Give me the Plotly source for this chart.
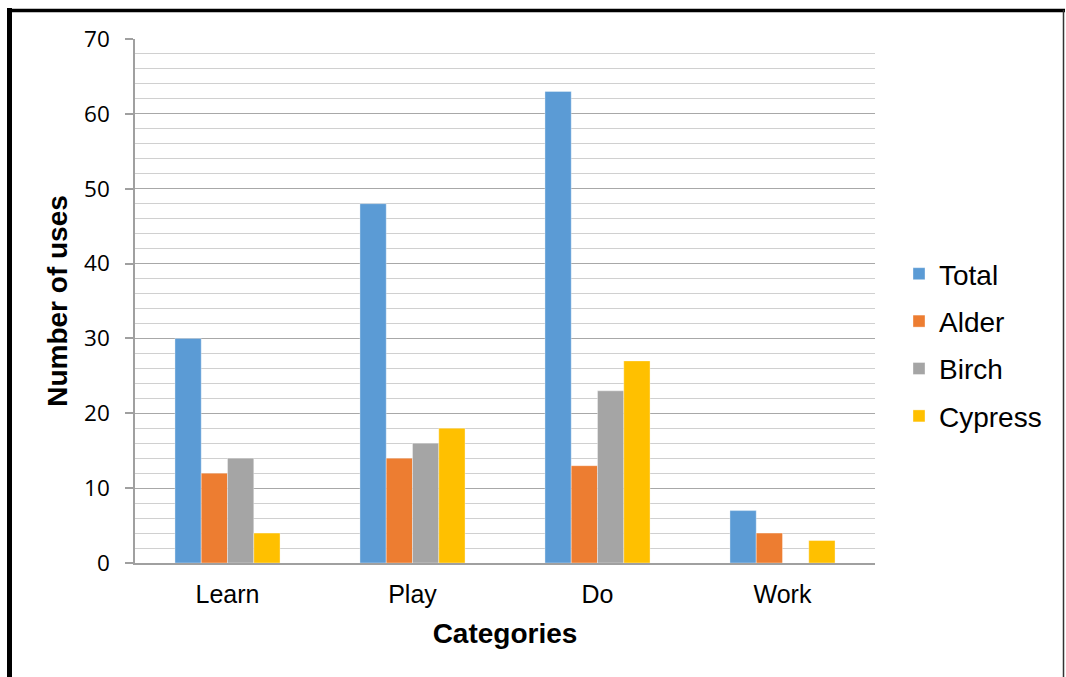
import plotly.graph_objects as go

categories = ["Learn", "Play", "Do", "Work"]
series_names = ["Total", "Alder", "Birch", "Cypress"]
total = [30, 48, 63, 7]
alder = [12, 14, 13, 4]
birch = [14, 16, 23, 0]
cypress = [4, 18, 27, 3]
colors = ["#5B9BD5", "#ED7D31", "#A5A5A5", "#FFC000"]

fig = go.Figure()
for name, vals, col in zip(series_names, [total, alder, birch, cypress], colors):
    fig.add_trace(go.Bar(x=categories, y=vals, name=name, marker_color=col, legendgroup=name,
                         marker_line=dict(width=0.6, color="rgba(255,255,255,0.6)")))

W, H = 1066, 677
L, R, T, B = 135, 191, 39, 114
pw, ph = W - L - R, H - T - B

def px(x):
    return (x - L) / pw

def py(y):
    return (H - B - y) / ph

fig.update_layout(
    width=W, height=H,
    margin=dict(l=L, r=R, t=T, b=B, autoexpand=False),
    paper_bgcolor="white", plot_bgcolor="white",
    barmode="group", bargap=0.432, bargroupgap=0,
    font=dict(family="Liberation Sans, Arial", color="black"),
    legend=dict(x=px(899), y=py(249), xanchor="left", yanchor="top",
                font=dict(size=28, family="Liberation Sans, Arial"),
                tracegroupgap=8, itemwidth=30, bgcolor="rgba(0,0,0,0)"),
    xaxis=dict(showline=True, linecolor="#A0A0A0", linewidth=1.5,
               ticks="", tickfont=dict(size=25, family="Liberation Sans, Arial"),
               ticklabelstandoff=8,
               title=dict(text="<b>Categories</b>", font=dict(size=28, family="Liberation Sans, Arial"),
                          standoff=17)),
    yaxis=dict(range=[0, 70], dtick=10, showgrid=True, gridcolor="#A8A8A8", gridwidth=1.3,
               minor=dict(dtick=2, showgrid=True, gridcolor="#D0D0D0", gridwidth=1.3),
               showline=True, linecolor="#A0A0A0", linewidth=1.5,
               ticks="outside", ticklen=8, tickcolor="#A0A0A0", tickwidth=1.5,
               tickfont=dict(size=22.5, family="Open Sans"), ticklabelstandoff=11,
               zeroline=False,
               title=dict(text="<b>Number of uses</b>", font=dict(size=28, family="Liberation Sans, Arial"),
                          standoff=8)),
    shapes=[
        dict(type="line", xref="paper", yref="paper", x0=px(9.5), x1=px(9.5), y0=py(8), y1=py(700),
             line=dict(color="black", width=5)),
        dict(type="line", xref="paper", yref="paper", x0=px(7), x1=px(1065), y0=py(10.5), y1=py(10.5),
             line=dict(color="black", width=3.5)),
        dict(type="line", xref="paper", yref="paper", x0=px(1063.5), x1=px(1063.5), y0=py(10), y1=py(700),
             line=dict(color="#333333", width=1.5)),
    ],
)

fig.write_html("out.html", config={"displayModeBar": False},
               post_script="document.body.style.margin='0';document.body.style.overflow='hidden';")
